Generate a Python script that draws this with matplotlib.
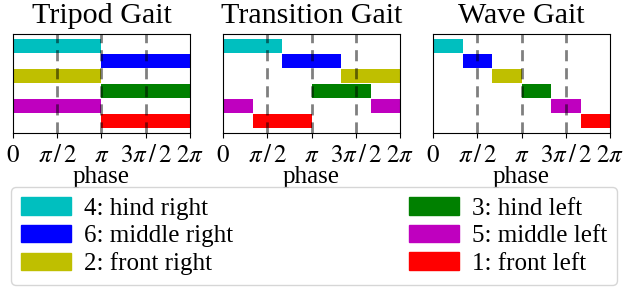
import numpy as np
import matplotlib
matplotlib.use("Agg")
import matplotlib.pyplot as plt
from matplotlib.patches import Patch

plt.rcParams['font.family'] = ['Liberation Serif', 'DejaVu Serif']
plt.rcParams['mathtext.fontset'] = 'stix'
plt.rcParams['font.size'] = 18

# legs, top row to bottom row
legs = ["4: hind right", "6: middle right", "2: front right",
        "3: hind left", "5: middle left", "1: front left"]
colors = ["c", "b", "y", "g", "m", "r"]

gait_titles = ["Tripod Gait", "Transition Gait", "Wave Gait"]
# stance intervals per leg, (start, length) in units of pi
tripod = [[(0, 1)], [(1, 1)], [(0, 1)], [(1, 1)], [(0, 1)], [(1, 1)]]
transition = [[(0, 2/3)], [(2/3, 2/3)], [(4/3, 2/3)], [(1, 2/3)],
              [(0, 1/3), (5/3, 1/3)], [(1/3, 2/3)]]
wave = [[(0, 1/3)], [(1/3, 1/3)], [(2/3, 1/3)], [(1, 1/3)], [(4/3, 1/3)], [(5/3, 1/3)]]
gaits = [tripod, transition, wave]

tick_vals = [0, 0.5, 1, 1.5, 2]
tick_labels = [r"$0$", r"$\pi\,/\,2$", r"$\pi$", r"$3\pi\,/\,2$", r"$2\pi$"]
guide_vals = [0.5, 1, 1.5]

W, H = 624, 291
fig = plt.figure(figsize=(W/100, H/100), dpi=100)
lefts = [13, 223, 433]
for k, (left, title, gait) in enumerate(zip(lefts, gait_titles, gaits)):
    ax = fig.add_axes([left/W, (H-133)/H, 177/W, 99/H])
    n = len(legs)
    for i, (intervals, col) in enumerate(zip(gait, colors)):
        y = n - 1 - i
        for (s, l) in intervals:
            ax.barh(y, l*np.pi, left=s*np.pi, height=0.88, color=col, linewidth=0)
    for g in guide_vals:
        ax.axvline(g*np.pi, color='k', alpha=0.5, linestyle=(0, (4, 2.5)), linewidth=2)
    ax.set_xlim(0, 2*np.pi)
    ax.set_ylim(-0.8, n - 1 + 0.8)
    ax.set_yticks([])
    ax.set_xticks([v*np.pi for v in tick_vals])
    ax.set_xticklabels(tick_labels)
    ax.tick_params(axis='x', pad=5.5)
    ax.set_xlabel("phase", labelpad=-1)
    ax.set_title(title, fontsize='large', pad=8)

handles = [Patch(color=c, label=l) for c, l in zip(colors, legs)]
fig.legend(handles=handles, ncol=2, mode='expand',
           bbox_to_anchor=(11/W, (H-285)/H, 606/W, 99/H), loc='lower left',
           borderaxespad=0, labelspacing=0.2, fancybox=True, handletextpad=0.5)

fig.savefig("out.png", dpi=100)
